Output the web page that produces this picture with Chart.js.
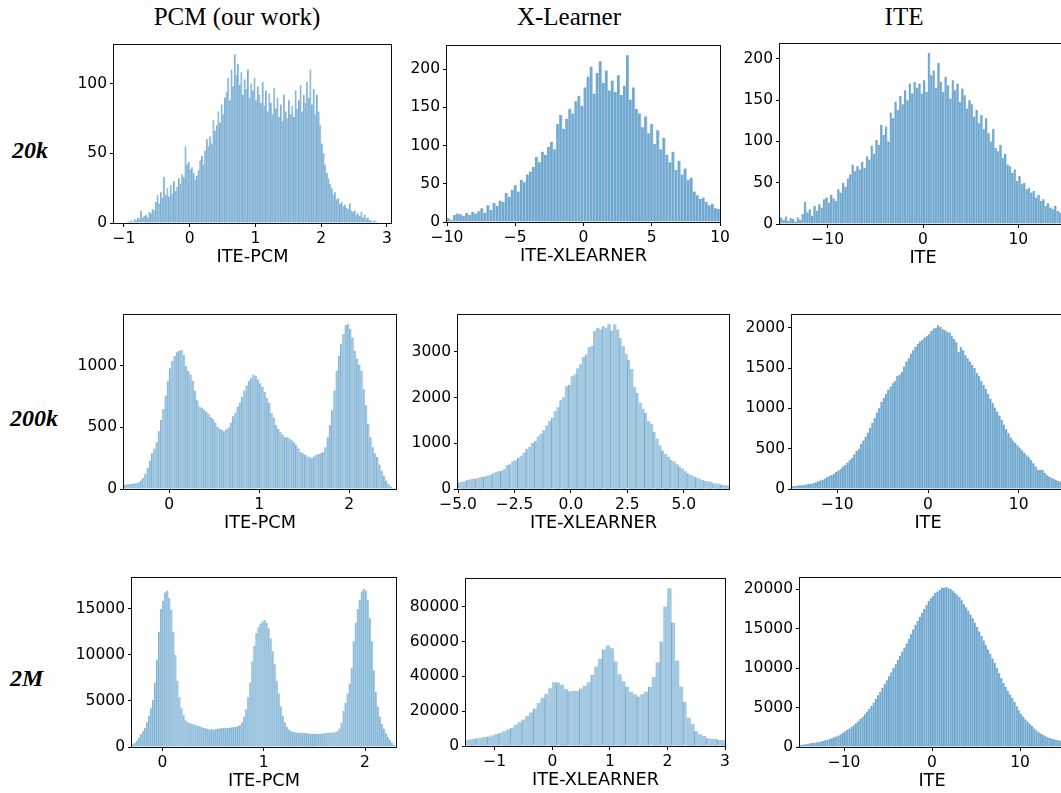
<!DOCTYPE html>
<html>
<head>
<meta charset="utf-8">
<script src="https://cdn.jsdelivr.net/npm/chart.js@4.4.0/dist/chart.umd.min.js"></script>
<style>
  html, body { margin: 0; padding: 0; background: #fff; }
  body { width: 1061px; height: 793px; position: relative; overflow: hidden; }
  canvas { position: absolute; }
  .col { position: absolute; top: 3.5px; font: 25px "Liberation Serif", "Times New Roman", serif; line-height: 25px; transform: translateX(-50%); white-space: nowrap; color: #000; }
  .row { position: absolute; font: bold italic 24px "Liberation Serif", "Times New Roman", serif; line-height: 24px; color: #000; }
</style>
</head>
<body>
<div class="col" style="left:237px">PCM (our work)</div>
<div class="col" style="left:569px">X-Learner</div>
<div class="col" style="left:904px">ITE</div>
<div class="row" style="left:12px; top:138px">20k</div>
<div class="row" style="left:10px; top:406px">200k</div>
<div class="row" style="left:10px; top:666px">2M</div>
<script>
// bins = [first bin edge, bin width]; counts

// ---- 20k ----
const pcm20kBins = [-0.95, 0.025];
const pcm20kCounts = [
  1, 1, 2, 1, 3, 2, 4, 3, 9, 4,
  5, 6, 4, 8, 7, 10, 9, 15, 20, 14,
  22, 18, 33, 20, 25, 19, 27, 21, 30, 23,
  26, 32, 28, 35, 33, 55, 42, 44, 38, 40,
  36, 31, 34, 38, 45, 48, 42, 52, 60, 55,
  62, 57, 74, 66, 70, 80, 72, 85, 78, 90,
  94, 104, 88, 110, 98, 121, 106, 114, 99, 108,
  92, 103, 96, 110, 90, 100, 95, 104, 88, 98,
  92, 86, 101, 84, 95, 80, 93, 86, 78, 97,
  82, 90, 76, 85, 73, 92, 80, 75, 88, 78,
  84, 76, 95, 82, 88, 99, 80, 92, 86, 101,
  90, 110, 85, 96, 78, 92, 80, 70, 57, 50,
  42, 36, 32, 28, 25, 20, 22, 17, 18, 14,
  15, 12, 13, 11, 10, 14, 9, 8, 9, 6,
  7, 5, 8, 4, 6, 3, 4, 2, 2, 1,
  2, 1
];
const pcm20kXTicks = [-1, 0, 1, 2, 3];
const pcm20kYTicks = [0, 50, 100];

const xl20kBins = [-10, 0.2222];
const xl20kCounts = [
  5, 3, 9, 11, 10, 8, 12, 9, 13,
  11, 14, 18, 12, 22, 16, 25, 21, 28,
  26, 38, 33, 42, 48, 40, 55, 52, 62,
  66, 72, 85, 78, 92, 88, 98, 105, 95,
  128, 140, 122, 135, 148, 142, 158, 165, 152,
  176, 190, 203, 168, 195, 210, 182, 198, 172,
  185, 170, 192, 166, 178, 218, 160, 176, 148,
  142, 124, 138, 116, 128, 102, 120, 95, 110,
  88, 78, 92, 68, 80, 62, 70, 55, 58,
  40, 35, 30, 32, 26, 22, 24, 18, 17
];
const xl20kXTicks = [-10, -5, 0, 5, 10];
const xl20kYTicks = [0, 50, 100, 150, 200];

const ite20kBins = [-15, 0.25];
const ite20kCounts = [
  8, 5, 9, 4, 7, 6, 3, 8,
  5, 12, 27, 14, 18, 10, 22, 16,
  24, 20, 30, 32, 26, 35, 31, 28,
  42, 38, 50, 45, 55, 60, 72, 64,
  70, 66, 75, 68, 82, 78, 95, 85,
  102, 96, 120, 108, 118, 100, 135, 128,
  148, 138, 155, 145, 162, 150, 170, 158,
  172, 165, 170, 158, 174, 160, 207, 180,
  186, 165, 195, 172, 160, 178, 168, 152,
  174, 162, 170, 148, 164, 156, 140, 150,
  145, 130, 138, 122, 132, 115, 128, 110,
  100, 115, 92, 88, 96, 80, 85, 72,
  70, 62, 66, 52, 58, 48, 50, 42,
  44, 38, 40, 32, 35, 28, 30, 22,
  25, 20, 18, 22, 16, 14, 15, 12
];
const ite20kXTicks = [-10, 0, 10];
const ite20kYTicks = [0, 50, 100, 150, 200];

// ---- 200k ----
const pcm200kBins = [-0.5, 0.025];
const pcm200kCounts = [
  35, 38, 40, 42, 45, 48, 55, 70, 90, 125,
  170, 230, 290, 330, 380, 470, 560, 650, 760, 880,
  980, 1040, 1080, 1110, 1120, 1130, 1090, 1000, 960, 930,
  880, 800, 720, 670, 660, 645, 630, 610, 585, 570,
  540, 505, 490, 480, 470, 485, 500, 540, 590, 620,
  670, 700, 750, 800, 840, 880, 900, 930, 920, 890,
  860, 830, 790, 740, 700, 620, 580, 520, 490, 460,
  440, 420, 420, 410, 395, 380, 360, 330, 300, 290,
  280, 265, 260, 250, 265, 280, 285, 290, 300, 340,
  420, 520, 640, 800, 960, 1080, 1180, 1260, 1330, 1340,
  1300, 1230, 1120, 1060, 1010, 960, 810, 680, 530, 420,
  340, 290, 260, 200, 150, 110, 70, 40, 20, 10,
  5
];
const pcm200kXTicks = [0, 1, 2];
const pcm200kYTicks = [0, 500, 1000];

const xl200kBins = [-5, 0.125];
const xl200kCounts = [
  140, 150, 160, 195, 205, 215, 230, 245,
  255, 275, 290, 305, 340, 360, 380, 400,
  430, 520, 540, 600, 620, 680, 720, 790,
  880, 920, 1000, 1050, 1140, 1200, 1290, 1380,
  1480, 1560, 1700, 1780, 1940, 2000, 2240, 2280,
  2460, 2500, 2640, 2720, 2880, 2940, 3100, 3120,
  3460, 3520, 3480, 3560, 3520, 3600, 3460, 3590,
  3480, 3300, 3120, 2950, 2820, 2620, 2220, 2100,
  1880, 1750, 1660, 1480, 1420, 1250, 1100, 950,
  840, 760, 700, 640, 600, 540, 490, 440,
  380, 340, 300, 265, 250, 220, 190, 175,
  165, 150, 125, 115, 105, 90, 80, 72
];
const xl200kXTicks = [-5, -2.5, 0, 2.5, 5];
const xl200kYTicks = [0, 1000, 2000, 3000];

const ite200kBins = [-15, 0.25];
const ite200kCounts = [
  35, 38, 42, 45, 48, 52, 58, 62, 66, 72, 85, 95,
  105, 115, 130, 145, 160, 175, 190, 210, 230, 250, 280, 300,
  330, 360, 385, 430, 470, 500, 560, 600, 650, 700, 760, 820,
  880, 950, 1000, 1080, 1130, 1180, 1230, 1270, 1310, 1340, 1400, 1420,
  1450, 1520, 1580, 1620, 1680, 1720, 1760, 1800, 1830, 1850, 1880, 1900,
  1920, 1960, 1990, 2000, 2030, 2010, 1980, 1970, 1950, 1940, 1900, 1860,
  1820, 1700, 1760, 1720, 1660, 1620, 1580, 1540, 1500, 1440, 1400, 1340,
  1290, 1240, 1180, 1120, 1070, 1010, 960, 910, 860, 800, 740, 690,
  640, 600, 570, 540, 515, 480, 450, 420, 395, 360, 320, 280,
  240, 235, 240, 200, 170, 155, 140, 125, 110, 100, 90, 80
];
const ite200kXTicks = [-10, 0, 10];
const ite200kYTicks = [0, 500, 1000, 1500, 2000];

// ---- 2M ----
const pcm2mBins = [-0.3, 0.02];
const pcm2mCounts = [
  300, 450, 700, 1000, 1400, 1700, 2100, 2700, 3400, 4200,
  5100, 7000, 9500, 12500, 15000, 15900, 16800, 17000, 16200, 14900,
  12500, 10000, 7200, 5400, 4200, 3500, 2900, 2700, 2600, 2500,
  2450, 2400, 2300, 2250, 2150, 2100, 2050, 1950, 1900, 1950,
  1850, 1950, 2000, 2050, 2050, 2100, 2050, 2100, 2100, 2150,
  2150, 2200, 2250, 2400, 2700, 3300, 4100, 5400, 7000, 9300,
  11000, 12400, 13000, 13400, 13600, 13800, 13500, 12900, 11800, 10400,
  9000, 7200, 5800, 4400, 3400, 2700, 2200, 1900, 1750, 1650,
  1600, 1570, 1560, 1550, 1540, 1520, 1500, 1470, 1450, 1430,
  1420, 1430, 1440, 1450, 1500, 1500, 1520, 1560, 1570, 1580,
  1600, 1700, 2000, 2600, 3900, 4800, 5800, 6900, 8600, 11500,
  13500, 15000, 16000, 16900, 17200, 17000, 16000, 14000, 11500, 8300,
  6000, 4400, 3300, 2500, 2000, 1500, 1100, 790, 500, 250
];
const pcm2mXTicks = [0, 1, 2];
const pcm2mYTicks = [0, 5000, 10000, 15000];

const xl2mBins = [-1.5333, 0.06667];
const xl2mCounts = [
  3200, 3500, 4000, 4400, 4600, 5000, 5500, 6000, 6700, 7400, 8300, 9300,
  10500, 12000, 13500, 15300, 17000, 19000, 21500, 24500, 27500, 30000, 33000,
  36500, 36500, 35000, 32500, 31500, 31500, 31500, 33000, 34500, 36500, 41000,
  45500, 50000, 55500, 57500, 56000, 48500,
  41000, 37000, 34000, 31000, 29500, 28500, 29500, 31000, 34000,
  39500, 48000, 60000, 80000, 90500, 71000, 49000, 34000, 25500, 16000,
  12500, 8500, 6500, 5500, 4500, 4000, 3800, 3500, 3200, 3000
];
const xl2mXTicks = [-1, 0, 1, 2, 3];
const xl2mYTicks = [0, 20000, 40000, 60000, 80000];

const ite2mBins = [-15, 0.25];
const ite2mCounts = [
  290, 320, 360, 420, 460, 500, 550, 590, 625, 690, 760, 840,
  920, 1000, 1100, 1220, 1330, 1450, 1620, 1780, 1960, 2150, 2350, 2550,
  2750, 3000, 3250, 3550, 3830, 4150, 4500, 4850, 5210, 5650, 6100, 6550,
  7000, 7500, 8000, 8450, 8960, 9450, 10000, 10500, 11040, 11550, 12100, 12600,
  13130, 13700, 14300, 14900, 15500, 16000, 16500, 17000, 17500, 18000, 18500, 18850,
  19170, 19500, 19700, 19900, 20200, 20150, 20250, 20100, 20000, 19800, 19500, 19250,
  18960, 18600, 18100, 17700, 17290, 16800, 16300, 15750, 15210, 14650, 14050, 13500,
  12920, 12350, 11800, 11200, 10630, 10000, 9350, 8750, 8125, 7600, 7100, 6650,
  6250, 5700, 5150, 4650, 4170, 3850, 3500, 3200, 2920, 2650, 2350, 2100,
  1880, 1700, 1550, 1400, 1250, 1150, 1050, 980, 920, 840, 760, 690
];
const ite2mXTicks = [-10, 0, 10];
const ite2mYTicks = [0, 5000, 10000, 15000, 20000];

// ---- look ----
const LIGHT = '#a5c9e1', DARK = '#70a8cf';
const fineStyle = { fill: '#9cc3df', edge: '#6ea6ce', edgeW: { left: 1 }, every: 1 };
const darkStyle = { fill: DARK, edge: LIGHT, edgeW: { right: 0.8 }, every: 1 };
const coarseStyle = { fill: LIGHT, edge: '#74aad0', edgeW: { left: 1 }, every: 3 };

const frame = { yAxisW: 70, padTop: 10, padRight: 24, xAxisH: 50 };
const TICK_FONT = { family: 'DejaVu Sans', size: 15.5 };
const TITLE_FONT = { family: 'DejaVu Sans', size: 17.7 };

function minus(v, dec) {
  const s = dec ? Math.abs(v).toFixed(dec) : String(Math.abs(v));
  return (v < 0 ? '\u2212' : '') + s;
}

const framePlugin = {
  id: 'frame',
  afterDraw(chart) {
    const { ctx, chartArea: a } = chart;
    ctx.save();
    ctx.strokeStyle = '#111';
    ctx.lineWidth = 1;
    ctx.strokeRect(Math.round(a.left) - 0.5, Math.round(a.top) - 0.5,
      Math.round(a.right - a.left) + 1, Math.round(a.bottom - a.top) + 1);
    ctx.restore();
  }
};

function histogram(p) {
  const [l, t, r, b] = p.box;
  const W = frame.yAxisW + (r - l) + frame.padRight;
  const H = frame.padTop + (b - t) + frame.xAxisH;
  const cv = document.createElement('canvas');
  cv.width = W; cv.height = H;
  cv.style.width = W + 'px'; cv.style.height = H + 'px';
  cv.style.left = (l - frame.yAxisW) + 'px';
  cv.style.top = (t - frame.padTop) + 'px';
  document.body.appendChild(cv);

  const pts = p.counts.map((c, i) => ({ x: p.bins[0] + (i + 0.5) * p.bins[1], y: c }));
  const st = p.style;

  new Chart(cv, {
    type: 'bar',
    data: {
      datasets: [{
        data: pts,
        backgroundColor: st.fill,
        borderColor: st.edge,
        borderWidth: ctx => (ctx.dataIndex % st.every === 0 ? st.edgeW : 0),
        barPercentage: 1,
        categoryPercentage: 1
      }]
    },
    options: {
      responsive: false,
      animation: false,
      events: [],
      layout: { padding: { top: frame.padTop, right: frame.padRight, left: 0, bottom: 0 } },
      plugins: { legend: { display: false }, tooltip: { enabled: false } },
      scales: {
        x: {
          type: 'linear', min: p.xRange[0], max: p.xRange[1], offset: false,
          grid: { display: true, offset: false, drawOnChartArea: false, drawTicks: true, tickLength: 4, color: '#000', lineWidth: 1 },
          border: { display: false },
          ticks: { autoSkip: false, maxRotation: 0, color: '#000', font: TICK_FONT, padding: 3,
            callback: v => minus(v, p.xDec) },
          afterBuildTicks: s => { s.ticks = p.xTicks.map(v => ({ value: v })); },
          afterFit: s => { s.height = frame.xAxisH; },
          title: { display: true, text: p.xTitle, color: '#000', font: TITLE_FONT, padding: { top: 0, bottom: 5.4 } }
        },
        y: {
          min: 0, max: p.yMax,
          grid: { display: true, offset: false, drawOnChartArea: false, drawTicks: true, tickLength: 4, color: '#000', lineWidth: 1 },
          border: { display: false },
          ticks: { color: '#000', font: TICK_FONT, padding: 3, callback: v => String(v) },
          afterBuildTicks: s => { s.ticks = p.yTicks.map(v => ({ value: v })); },
          afterFit: s => { s.width = frame.yAxisW; }
        }
      }
    },
    plugins: [framePlugin]
  });
}

const panels = [
  { counts: pcm20kCounts, bins: pcm20kBins, xTicks: pcm20kXTicks, yTicks: pcm20kYTicks, xTitle: 'ITE-PCM',
    box: [114, 43, 391, 223], xRange: [-1.152, 3.061], yMax: 127.4, style: fineStyle },
  { counts: xl20kCounts, bins: xl20kBins, xTicks: xl20kXTicks, yTicks: xl20kYTicks, xTitle: 'ITE-XLEARNER',
    box: [447, 44, 720, 222], xRange: [-10, 10], yMax: 229.7, style: { ...darkStyle, edgeW: { right: 1 } } },
  { counts: ite20kCounts, bins: ite20kBins, xTicks: ite20kXTicks, yTicks: ite20kYTicks, xTitle: 'ITE',
    box: [780, 42, 1066, 224], xRange: [-15, 15], yMax: 217.6, style: darkStyle },
  { counts: pcm200kCounts, bins: pcm200kBins, xTicks: pcm200kXTicks, yTicks: pcm200kYTicks, xTitle: 'ITE-PCM',
    box: [124, 313, 396, 489], xRange: [-0.503, 2.519], yMax: 1411, style: { ...fineStyle, fill: LIGHT, edge: '#7cb0d4', edgeW: { left: 0.9 } } },
  { counts: xl200kCounts, bins: xl200kBins, xTicks: xl200kXTicks, yTicks: xl200kYTicks, xTitle: 'ITE-XLEARNER', xDec: 1,
    box: [458, 313, 729, 489], xRange: [-5, 7], yMax: 3800, style: coarseStyle },
  { counts: ite200kCounts, bins: ite200kBins, xTicks: ite200kXTicks, yTicks: ite200kYTicks, xTitle: 'ITE',
    box: [792, 313, 1064, 489], xRange: [-15, 15], yMax: 2154, style: darkStyle },
  { counts: pcm2mCounts, bins: pcm2mBins, xTicks: pcm2mXTicks, yTicks: pcm2mYTicks, xTitle: 'ITE-PCM',
    box: [132, 576, 396, 747], xRange: [-0.3, 2.306], yMax: 18330, style: { ...fineStyle, fill: LIGHT, edge: '#7cb0d4', edgeW: { left: 0.9 } } },
  { counts: xl2mCounts, bins: xl2mBins, xTicks: xl2mXTicks, yTicks: xl2mYTicks, xTitle: 'ITE-XLEARNER',
    box: [466, 577, 725, 746], xRange: [-1.5, 3], yMax: 95800, style: coarseStyle },
  { counts: ite2mCounts, bins: ite2mBins, xTicks: ite2mXTicks, yTicks: ite2mYTicks, xTitle: 'ITE',
    box: [800, 576, 1064, 747], xRange: [-15, 15], yMax: 21375, style: darkStyle }
];

panels.forEach(histogram);
</script>
</body>
</html>
